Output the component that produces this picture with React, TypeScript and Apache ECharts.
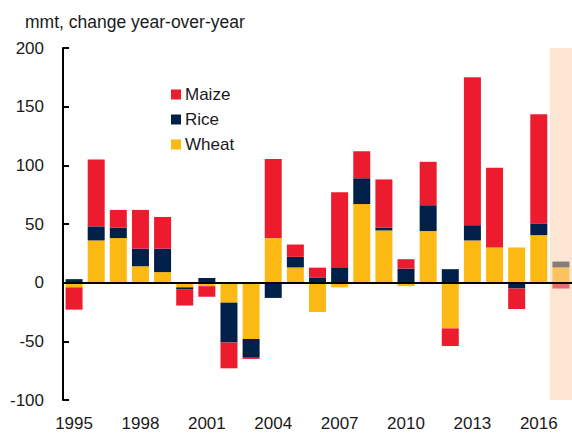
import React, { useEffect, useRef } from "react";
import * as echarts from "echarts";

const years = ["1995","1996","1997","1998","1999","2000","2001","2002","2003","2004","2005","2006","2007","2008","2009","2010","2011","2012","2013","2014","2015","2016","2017"];
const wheat = [-4, 36, 38, 14, 9, -4, -3, -17, -48, 38, 13, -25, -4, 67, 44.5, -3, 44, -39, 36, 30, 30, 40.5, 13];
const rice = [3, 12, 9, 15, 20, -1.5, 4, -34, -16, -13, 9, 4.5, 12.5, 22, 2.5, 12, 22, 11.5, 13, 0, -5, 10, 5];
const maize = [-19, 57, 15, 33, 27, -14, -9, -22, -1, 67.5, 10.5, 8.3, 64.5, 23, 41, 8, 37, -15, 126, 68, -17.5, 93, -5];
const forecastYear = "2017";
const yTop = [null, null, null, null, null, null, null, null, null, null, null, null, null, null, null, null, null, null, null, null, null, null, 200];
const yBottom = [null, null, null, null, null, null, null, null, null, null, null, null, null, null, null, null, null, null, null, null, null, null, -100];

const COLORS = { maize: "#EC1C2E", rice: "#00204A", wheat: "#FDB913" };
const FADED = { maize: "#F2676B", rice: "#837C79", wheat: "#FCC25E" };
const FONT = "'Liberation Sans', Arial, sans-serif";

function withForecast(arr: number[], faded: string) {
  return arr.map((v, i) =>
    years[i] === forecastYear ? { value: v, itemStyle: { color: faded } } : v
  );
}

export default function App() {
  const ref = useRef<HTMLDivElement>(null);
  useEffect(() => {
    if (!ref.current) return;
    const chart = echarts.init(ref.current, null, { renderer: "svg" });
    const option: any = {
      animation: false,
      textStyle: { fontFamily: FONT },
      title: {
        text: "mmt, change year-over-year",
        left: 25,
        top: 13,
        padding: 0,
        textStyle: { fontFamily: FONT, fontSize: 17.5, fontWeight: "normal", color: "#1a1a1a" },
      },
      legend: {
        data: ["Maize", "Rice", "Wheat"],
        orient: "vertical",
        left: 171,
        top: 86,
        padding: 0,
        itemWidth: 10,
        itemHeight: 10,
        itemGap: 8,
        icon: "rect",
        textStyle: { fontFamily: FONT, fontSize: 17, color: "#1a1a1a", lineHeight: 17, padding: [0, 0, 0, -1] },
      },
      grid: { left: 63, top: 48, width: 512, height: 352, containLabel: false },
      xAxis: [
        {
          type: "category",
          data: years,
          position: "bottom",
          axisLine: { show: false, onZero: false },
          axisTick: { show: false },
          axisLabel: { interval: 2, margin: 15, fontSize: 17, color: "#1a1a1a", fontFamily: FONT },
        },
        {
          type: "category",
          data: years,
          position: "bottom",
          z: 10,
          axisLine: { show: true, onZero: true, lineStyle: { color: "#000", width: 2 } },
          axisTick: { show: false },
          axisLabel: { show: false },
        },
      ],
      yAxis: {
        type: "value",
        min: -100,
        max: 200,
        interval: 50,
        axisLine: { show: true, lineStyle: { color: "#000", width: 2 } },
        axisTick: { show: true, inside: true, length: 6, lineStyle: { color: "#000", width: 2 } },
        axisLabel: { margin: 19, fontSize: 17, color: "#1a1a1a", fontFamily: FONT },
        splitLine: { show: false },
      },
      series: [
        {
          name: "bgTop",
          type: "bar",
          xAxisIndex: 1,
          stack: "bg",
          barWidth: "100%",
          z: 1,
          silent: true,
          itemStyle: { color: "#FDE5D4" },
          data: yTop,
        },
        {
          name: "bgBottom",
          type: "bar",
          xAxisIndex: 1,
          stack: "bg",
          barWidth: "100%",
          z: 1,
          silent: true,
          itemStyle: { color: "#FDE5D4" },
          data: yBottom,
        },
        {
          name: "Wheat",
          type: "bar",
          stack: "total",
          barWidth: 17,
          z: 3,
          itemStyle: { color: COLORS.wheat },
          data: withForecast(wheat, FADED.wheat),
        },
        {
          name: "Rice",
          type: "bar",
          stack: "total",
          barWidth: 17,
          z: 3,
          itemStyle: { color: COLORS.rice },
          data: withForecast(rice, FADED.rice),
        },
        {
          name: "Maize",
          type: "bar",
          stack: "total",
          barWidth: 17,
          z: 3,
          itemStyle: { color: COLORS.maize },
          data: withForecast(maize, FADED.maize),
        },
      ],
    };
    chart.setOption(option);
    return () => chart.dispose();
  }, []);
  return <div ref={ref} style={{ width: 572, height: 434, position: "absolute", left: 0, top: 0 }} />;
}
